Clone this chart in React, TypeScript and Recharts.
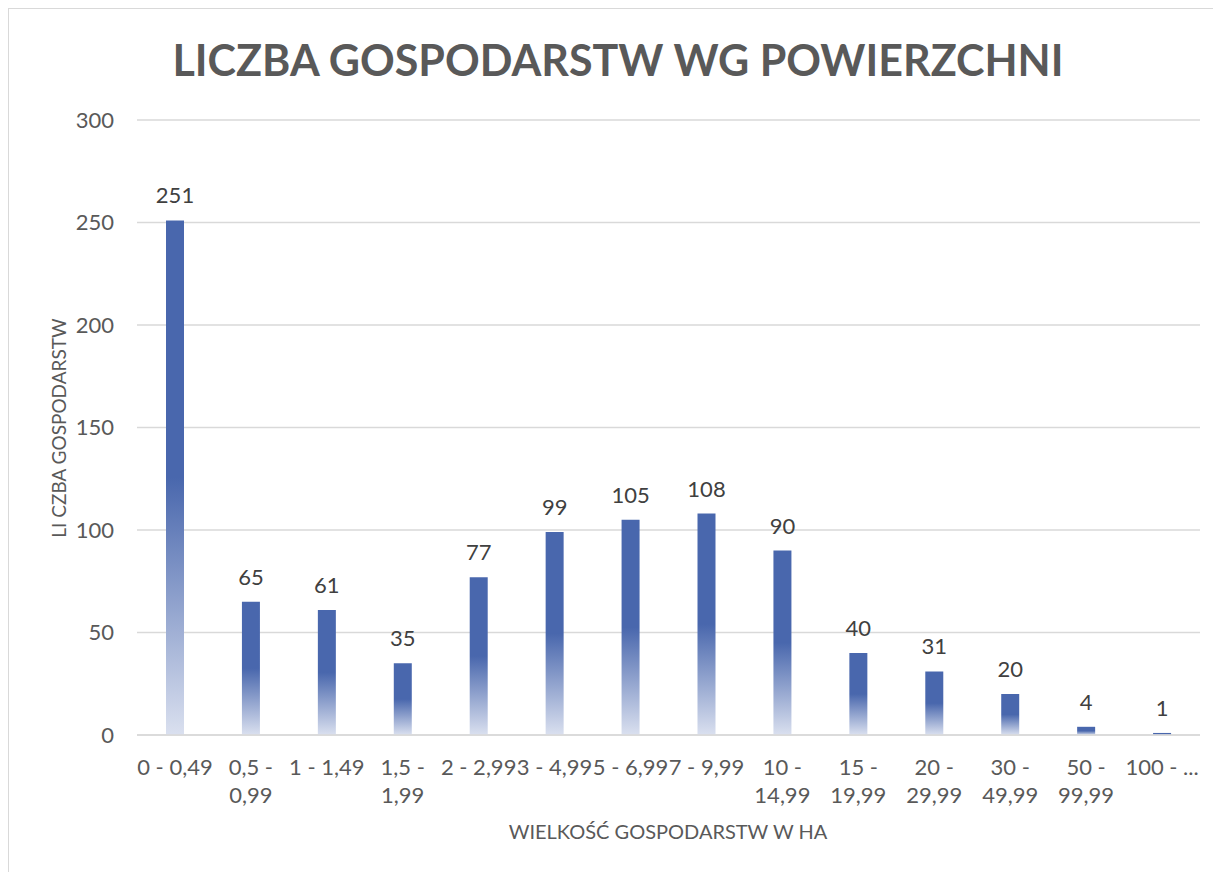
import { BarChart, Bar, XAxis, YAxis, CartesianGrid, LabelList } from "recharts";

const categories = [
  "0 - 0,49",
  "0,5 - 0,99",
  "1 - 1,49",
  "1,5 - 1,99",
  "2 - 2,99",
  "3 - 4,99",
  "5 - 6,99",
  "7 - 9,99",
  "10 - 14,99",
  "15 - 19,99",
  "20 - 29,99",
  "30 - 49,99",
  "50 - 99,99",
  "100 - ...",
];
const farmCounts = [251, 65, 61, 35, 77, 99, 105, 108, 90, 40, 31, 20, 4, 1];
const yTicks = [0, 50, 100, 150, 200, 250, 300];

const data = categories.map((name, i) => ({ name, count: farmCounts[i] }));

const FONT = "Lato, 'Open Sans', sans-serif";
const TEXT = "#595959";

// long ranges wrap after the dash, like Excel does
const CategoryTick = ({ x, y, payload }: any) => {
  const label: string = payload.value;
  const cut = label.indexOf(" - ");
  const lines = label.length > 9 ? [label.slice(0, cut + 2), label.slice(cut + 3)] : [label];
  return (
    <text x={x} y={y} textAnchor="middle" fill={TEXT} fontSize={22} fontFamily={FONT}>
      {lines.map((l, i) => (
        <tspan key={i} x={x} dy={i === 0 ? 26 : 28} dominantBaseline="middle">
          {l}
        </tspan>
      ))}
    </text>
  );
};

export default function App() {
  return (
    <div
      style={{
        position: "relative",
        width: 1213,
        height: 864,
        borderLeft: "1px solid #d9d9d9",
        borderTop: "1px solid #d9d9d9",
        background: "#fff",
        fontFamily: FONT,
      }}
    >
      <div
        style={{
          position: "absolute",
          left: 0,
          width: 1218,
          top: 25,
          textAlign: "center",
          fontSize: 43,
          fontWeight: 700,
          color: TEXT,
        }}
      >
        LICZBA GOSPODARSTW WG POWIERZCHNI
      </div>
      <div
        style={{
          position: "absolute",
          left: 49,
          top: 419,
          transform: "translate(-50%, -50%) rotate(-90deg)",
          whiteSpace: "nowrap",
          fontSize: 19,
          color: TEXT,
        }}
      >
        LI CZBA GOSPODARSTW
      </div>
      <div
        style={{
          position: "absolute",
          left: 659,
          top: 822,
          transform: "translate(-50%, -50%)",
          whiteSpace: "nowrap",
          fontSize: 20,
          color: TEXT,
        }}
      >
        WIELKOŚĆ GOSPODARSTW W HA
      </div>
      <BarChart
        width={1213}
        height={864}
        data={data}
        margin={{ top: 111, right: 22, left: 68, bottom: 58 }}
        barSize={18}
      >
        <defs>
          <linearGradient id="barFade" x1="0" y1="0" x2="0" y2="1">
            <stop offset="0%" stopColor="#4967ad" />
            <stop offset="50%" stopColor="#4967ad" />
            <stop offset="100%" stopColor="#dae0ef" />
          </linearGradient>
        </defs>
        <CartesianGrid vertical={false} stroke="#d9d9d9" strokeWidth={1.3} />
        <XAxis
          dataKey="name"
          height={80}
          interval={0}
          tickLine={false}
          axisLine={{ stroke: "#d9d9d9", strokeWidth: 1.5 }}
          tick={<CategoryTick />}
        />
        <YAxis
          width={60}
          domain={[0, 300]}
          ticks={yTicks}
          tickLine={false}
          axisLine={false}
          tickSize={0}
          tickMargin={23}
          tick={{ fill: TEXT, fontSize: 22, fontFamily: FONT }}
        />
        <Bar dataKey="count" fill="url(#barFade)" isAnimationActive={false}>
          <LabelList
            dataKey="count"
            position="top"
            offset={17}
            fill="#404040"
            fontSize={22}
            fontFamily={FONT}
          />
        </Bar>
      </BarChart>
    </div>
  );
}
